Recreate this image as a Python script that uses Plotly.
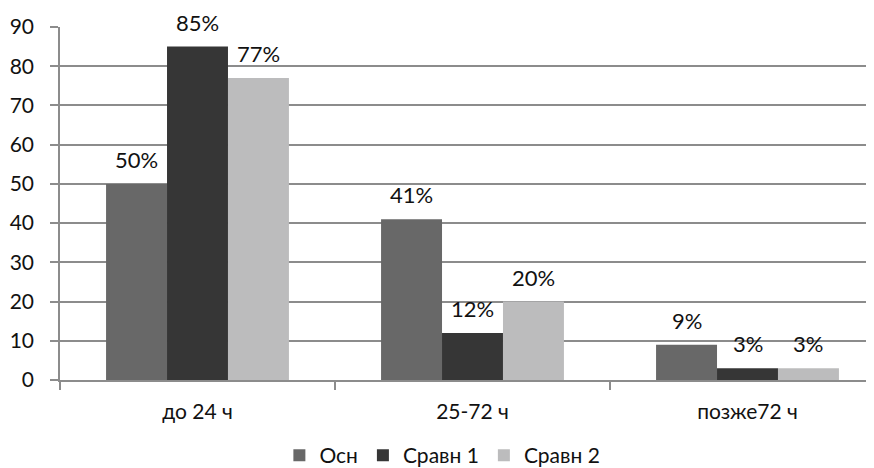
import plotly.graph_objects as go

categories = ["до 24 ч", "25-72 ч", "позже72 ч"]
series_names = ["Осн", "Сравн 1", "Сравн 2"]
osn = [50, 41, 9]
sravn1 = [85, 12, 3]
sravn2 = [77, 20, 3]
colors = ["#686868", "#363636", "#bcbcbd"]
y_ticks = [0, 10, 20, 30, 40, 50, 60, 70, 80, 90]

FONT = "Lato, Carlito, 'Noto Sans', sans-serif"
series = [osn, sravn1, sravn2]
bargap = 0.335
bw = (1 - bargap) / 3

fig = go.Figure()
for name, vals, col in zip(series_names, series, colors):
    fig.add_trace(go.Bar(x=categories, y=vals, name=name, marker=dict(color=col, line=dict(width=0))))

annotations = []
for si, vals in enumerate(series):
    for ci, v in enumerate(vals):
        annotations.append(dict(
            x=ci + (si - 1) * bw, y=v, xref="x", yref="y",
            text=f"{v}%", showarrow=False, yanchor="bottom", yshift=9,
            font=dict(family=FONT, size=22, color="#111111")))

# page body has an 8px margin; compensate in figure margins
fig.update_layout(
    width=874, height=468,
    margin=dict(l=52, r=8, t=19, b=96, autoexpand=False),
    paper_bgcolor="white", plot_bgcolor="white",
    barmode="group", bargap=bargap, bargroupgap=0,
    font=dict(family=FONT, size=20, color="#111111"),
    showlegend=True,
    legend=dict(orientation="h", x=0.497, xanchor="center", xref="container",
                yref="container", y=0.0, yanchor="bottom", font=dict(size=21),
                itemwidth=30, traceorder="normal"),
    annotations=annotations,
)
fig.update_xaxes(
    type="category", range=[-0.5, 2.46], automargin=False,
    showline=True, linecolor="#8c8c8c", linewidth=1.5,
    ticks="outside", tickson="boundaries", ticklen=8, tickcolor="#8c8c8c", tickwidth=1.5,
    showgrid=False, tickfont=dict(size=21), ticklabelstandoff=12,
)
fig.update_yaxes(
    range=[0, 90], tickvals=y_ticks, automargin=False,
    showline=True, linecolor="#8c8c8c", linewidth=1.5,
    ticks="outside", ticklen=8, tickcolor="#8c8c8c", tickwidth=1.5,
    showgrid=True, gridcolor="#8c8c8c", gridwidth=1.5,
    zeroline=False, tickfont=dict(size=21), ticklabelstandoff=12,
)

fig.write_html("out.html")
